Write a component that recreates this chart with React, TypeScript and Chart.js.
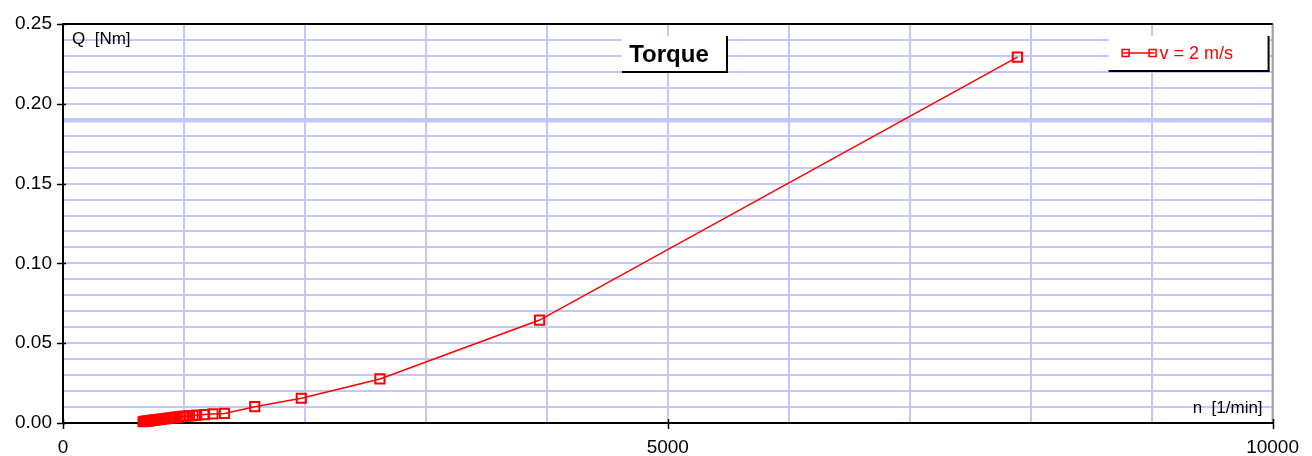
import React, { useEffect, useRef } from "react";
import { Chart, registerables } from "chart.js";

Chart.register(...registerables);

const speedN: number[] = [662, 672, 684, 696, 708, 720, 735, 750, 765, 780, 795, 812, 830, 848, 866, 884, 904, 924, 944, 966, 990, 1015, 1045, 1075, 1105, 1170, 1240, 1335, 1585, 1970, 2620, 3940, 7890];
const torqueQ: number[] = [0.0008, 0.0010, 0.0011, 0.0012, 0.0013, 0.0015, 0.0016, 0.0018, 0.0019, 0.0021, 0.0022, 0.0024, 0.0026, 0.0028, 0.0029, 0.0031, 0.0033, 0.0035, 0.0037, 0.0039, 0.0041, 0.0043, 0.0045, 0.0047, 0.0049, 0.0053, 0.0057, 0.0060, 0.0102, 0.0155, 0.0276, 0.0645, 0.2293];
const xLabelValues: number[] = [0, 5000, 10000];
const yLabelValues: number[] = [0, 0.05, 0.1, 0.15, 0.2, 0.25];
const seriesLabel = "v = 2 m/s";
const chartTitle = "Torque";
const yAxisTitle = "Q  [Nm]";
const xAxisTitle = "n  [1/min]";
const highlightY = 0.19;

const FONT = '"Liberation Sans", Arial, sans-serif';
const RED = "#ff0000";
const GRID = "#c6c6ff";

function line(ctx: CanvasRenderingContext2D, x1: number, y1: number, x2: number, y2: number) {
  ctx.beginPath();
  ctx.moveTo(x1, y1);
  ctx.lineTo(x2, y2);
  ctx.stroke();
}

const decor = {
  id: "decor",
  beforeDatasetsDraw(chart: any) {
    const { ctx, chartArea, scales } = chart;
    const { left, right, top, bottom } = chartArea;
    ctx.save();
    ctx.lineCap = "butt";
    ctx.strokeStyle = "#a0a0a0";
    ctx.lineWidth = 2;
    line(ctx, right, top - 1, right, bottom);
    ctx.strokeStyle = "#000";
    ctx.lineWidth = 2;
    line(ctx, left, top, right, top);
    line(ctx, left, top - 1, left, bottom + 1);
    line(ctx, left - 1, bottom, right + 1, bottom);
    ctx.lineWidth = 1.5;
    for (const v of yLabelValues) {
      const py = Math.round(scales.y.getPixelForValue(v)) + 0.5;
      line(ctx, left - 6, py, left + 3, py);
    }
    for (const v of xLabelValues) {
      const px = Math.round(scales.x.getPixelForValue(v)) + 0.5;
      line(ctx, px, bottom - 4, px, bottom + 6);
    }
    ctx.fillStyle = "#000";
    ctx.font = `17px ${FONT}`;
    ctx.textBaseline = "middle";
    ctx.textAlign = "left";
    ctx.fillText(yAxisTitle, left + 9, top + 15);
    ctx.textAlign = "right";
    ctx.fillText(xAxisTitle, right - 10, bottom - 15);
    ctx.restore();
  },
  afterDraw(chart: any) {
    const { ctx, chartArea } = chart;
    const { left, right, top } = chartArea;
    ctx.save();
    const tx = left + 559, ty = top + 12, tw = 105, th = 36;
    ctx.fillStyle = "#fff";
    ctx.fillRect(tx, ty, tw, th);
    ctx.strokeStyle = "#000";
    ctx.lineWidth = 2;
    line(ctx, tx + tw, ty, tx + tw, ty + th);
    line(ctx, tx, ty + th, tx + tw + 1, ty + th);
    ctx.fillStyle = "#000";
    ctx.font = `bold 24px ${FONT}`;
    ctx.textAlign = "center";
    ctx.textBaseline = "middle";
    ctx.fillText(chartTitle, tx + 47, ty + 19);

    const lx = right - 164, ly = top + 12, lw = 160, lh = 35;
    ctx.fillStyle = "#fff";
    ctx.fillRect(lx, ly, lw, lh);
    ctx.strokeStyle = "#000";
    ctx.lineWidth = 2;
    line(ctx, lx + lw, ly, lx + lw, ly + lh);
    line(ctx, lx, ly + lh, lx + lw + 1, ly + lh);
    const sy = ly + 17;
    ctx.strokeStyle = RED;
    ctx.lineWidth = 1.5;
    line(ctx, lx + 14, sy, lx + 46, sy);
    for (const cx of [lx + 17, lx + 44]) {
      ctx.strokeRect(cx - 3.5, sy - 3.5, 7, 7);
    }
    ctx.fillStyle = RED;
    ctx.font = `18px ${FONT}`;
    ctx.textAlign = "left";
    ctx.textBaseline = "middle";
    ctx.fillText(seriesLabel, lx + 51, sy + 1);
    ctx.restore();
  },
};

export default function App() {
  const ref = useRef<HTMLCanvasElement | null>(null);
  useEffect(() => {
    if (!ref.current) return;
    const chart = new Chart(ref.current, {
      type: "line",
      data: {
        datasets: [
          {
            label: seriesLabel,
            data: speedN.map((n, i) => ({ x: n, y: torqueQ[i] })),
            borderColor: RED,
            borderWidth: 1.5,
            pointStyle: "rect",
            pointRadius: 6.5,
            pointBorderWidth: 2,
            pointBorderColor: RED,
            pointBackgroundColor: "rgba(0,0,0,0)",
            tension: 0,
            clip: false as any,
          },
        ],
      },
      options: {
        responsive: false,
        animation: false,
        layout: { padding: { top: 24, right: 36, left: 0, bottom: 0 } },
        plugins: { legend: { display: false }, title: { display: false }, tooltip: { enabled: false } },
        scales: {
          x: {
            type: "linear",
            min: 0,
            max: 10000,
            afterFit: (s: any) => { s.height = 33; },
            border: { display: false },
            grid: { color: GRID, lineWidth: 2, drawTicks: false },
            ticks: {
              stepSize: 1000,
              autoSkip: false,
              maxRotation: 0,
              padding: 13,
              color: "#000",
              font: { family: FONT, size: 19 },
              callback: (v: any) => (xLabelValues.includes(Number(v)) ? String(v) : ""),
            },
          },
          y: {
            type: "linear",
            min: 0,
            max: 0.25,
            afterFit: (s: any) => { s.width = 63; },
            border: { display: false },
            grid: {
              color: GRID,
              lineWidth: (c: any) => (c.tick && Math.abs(c.tick.value - highlightY) < 1e-6 ? 4.5 : 2),
              drawTicks: false,
            },
            ticks: {
              stepSize: 0.01,
              autoSkip: false,
              padding: 11,
              color: "#000",
              font: { family: FONT, size: 19 },
              callback: (v: any) => {
                const r = Math.round(Number(v) * 100);
                return r % 5 === 0 ? (r / 100).toFixed(2) : "";
              },
            },
          },
        },
      },
      plugins: [decor],
    });
    return () => chart.destroy();
  }, []);
  return (
    <div style={{ position: "fixed", left: 0, top: 0, width: 1312, height: 456, background: "#fff" }}>
      <canvas ref={ref} width={1312} height={456} style={{ display: "block" }} />
    </div>
  );
}
